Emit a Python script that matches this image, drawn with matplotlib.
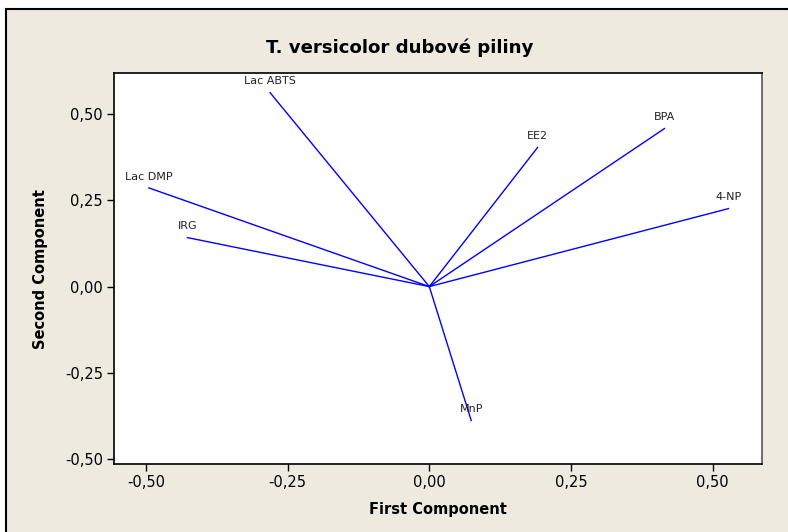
import matplotlib
matplotlib.use("Agg")
import matplotlib.pyplot as plt
from matplotlib.patches import Rectangle
from matplotlib.ticker import FuncFormatter

variables = ["Lac ABTS", "BPA", "EE2", "4-NP", "Lac DMP", "IRG", "MnP"]
pc1 = [-0.281, 0.415, 0.191, 0.528, -0.495, -0.427, 0.074]
pc2 = [0.562, 0.458, 0.403, 0.226, 0.286, 0.142, -0.388]
xticks = [-0.50, -0.25, 0.00, 0.25, 0.50]
yticks = [-0.50, -0.25, 0.00, 0.25, 0.50]

W, H = 788, 532
fig = plt.figure(figsize=(W / 100, H / 100), dpi=100)
fig.patch.set_facecolor("white")

bg = Rectangle((6 / W, -0.1), 1.2, 1 - 9 / H + 0.1, transform=fig.transFigure,
               facecolor="#EEEAE0", edgecolor="black", linewidth=1.5, zorder=-10)
fig.patches.append(bg)

ax = fig.add_axes([114 / W, 1 - 464.3 / H, (762.3 - 114) / W, (464.3 - 73) / H])
ax.set_zorder(5)
ax.set_facecolor("white")

for x, y, name in zip(pc1, pc2, variables):
    ax.plot([0, x], [0, y], color="#0000FF", linewidth=1.0)
    ax.annotate(name, (x, y), xytext=(0, 4.5), textcoords="offset points",
                ha="center", va="bottom", fontsize=8, color="#222222")

ax.set_xlim(-0.5565, 0.5877)
ax.set_ylim(-0.515, 0.619)
ax.set_xticks(xticks)
ax.set_yticks(yticks)
fmt = FuncFormatter(lambda v, p: f"{v:.2f}".replace(".", ","))
ax.xaxis.set_major_formatter(fmt)
ax.yaxis.set_major_formatter(fmt)
ax.tick_params(direction="out", length=5, width=1, labelsize=10.5, pad=3, colors="black")
for s in ax.spines.values():
    s.set_linewidth(1.2)
    s.set_color("black")
ax.spines["right"].set_color("#555555")

ax.set_xlabel("First Component", fontsize=10.5, fontweight="bold", labelpad=8)
ax.set_ylabel("Second Component", fontsize=10.5, fontweight="bold", labelpad=12)
fig.text(400 / W, 1 - 48 / H, "T. versicolor dubové piliny", ha="center", va="center",
         fontsize=13.1, fontweight="bold", zorder=10)

fig.savefig("out.png", dpi=100, facecolor=fig.get_facecolor())
